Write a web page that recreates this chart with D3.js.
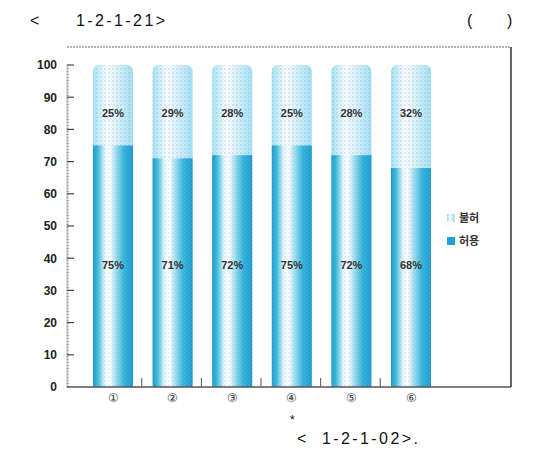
<!DOCTYPE html>
<html><head><meta charset="utf-8">
<script src="https://cdn.jsdelivr.net/npm/d3@7"></script>
<style>body{margin:0;background:#fff}svg{display:block}text{font-family:"Liberation Sans",Arial,sans-serif}</style>
</head><body>
<script>
const categories = ["①","②","③","④","⑤","⑥"];
const allowed = [75, 71, 72, 75, 72, 68];     // 허용
const denied  = [25, 29, 28, 25, 28, 32];     // 불허
const yTicks = [0,10,20,30,40,50,60,70,80,90,100];
const seriesNames = ["불허","허용"];
const titleParts = ["<", "1-2-1-21>"];
const unitParts = ["(", ")"];
const noteParts = ["*", "<", "1-2-1-02>."];

const W = 534, H = 459;
const svg = d3.select("body").append("svg").attr("width", W).attr("height", H);
const defs = svg.append("defs");

const gLow = defs.append("linearGradient").attr("id","gLow");
[[0,"#1a96cc"],[0.12,"#35bcd8"],[0.3,"#e8f8fc"],[0.42,"#ffffff"],[0.58,"#9adcec"],[0.78,"#2eb2d8"],[1,"#1a9ad0"]]
 .forEach(([o,c])=>gLow.append("stop").attr("offset",o).attr("stop-color",c));
const gHigh = defs.append("linearGradient").attr("id","gHigh");
[[0,"#a0e4f2"],[0.15,"#c6f0f8"],[0.35,"#ffffff"],[0.55,"#e4f6fb"],[0.8,"#bdebf6"],[1,"#a0e0f2"]]
 .forEach(([o,c])=>gHigh.append("stop").attr("offset",o).attr("stop-color",c));
const pat = defs.append("pattern").attr("id","dots").attr("width",4).attr("height",4).attr("patternUnits","userSpaceOnUse");
pat.append("circle").attr("cx",1).attr("cy",1).attr("r",0.8).attr("fill","#a9a9e6").attr("opacity",0.7);
pat.append("circle").attr("cx",3).attr("cy",3).attr("r",0.6).attr("fill","#9fd8ea").attr("opacity",0.6);

const pLeft = 67, pRight = 511, pTop = 47, y0 = 387, y100 = 65;
const x = d3.scalePoint().domain(categories).range([113, 411]);
const y = d3.scaleLinear().domain([0,100]).range([y0, y100]);
const bw = 40;

// frame
svg.append("line").attr("x1",pLeft).attr("x2",pRight).attr("y1",pTop).attr("y2",pTop)
  .attr("stroke","#999").attr("stroke-width",1.5).attr("stroke-dasharray","2,1");
svg.append("line").attr("x1",pRight).attr("x2",pRight).attr("y1",pTop).attr("y2",y0)
  .attr("stroke","#666").attr("stroke-width",2);

// y axis
const yAxis = d3.axisLeft(y).tickValues(yTicks).tickSize(0).tickPadding(10);
const ga = svg.append("g").attr("transform",`translate(${pLeft},0)`).call(yAxis);
ga.select(".domain").attr("stroke","#999").attr("stroke-width",2).attr("stroke-dasharray","2,1");
ga.selectAll("text").attr("font-size",12).attr("fill","#222").attr("font-weight","bold");
svg.append("g").selectAll("line").data(yTicks.slice(1)).join("line")
  .attr("x1",pLeft).attr("x2",pLeft+7).attr("y1",d=>y(d)).attr("y2",d=>y(d))
  .attr("stroke","#444").attr("stroke-width",1.2);

// bars
const bars = svg.append("g");
categories.forEach((c,i)=>{
  const cx = x(c);
  const tot = allowed[i]+denied[i];
  bars.append("rect").attr("x",cx-bw/2).attr("width",bw)
    .attr("y",y(tot)).attr("height",y(0)-y(tot))
    .attr("rx",6).attr("fill","url(#gHigh)");
  bars.append("rect").attr("x",cx-bw/2).attr("width",bw)
    .attr("y",y(tot)).attr("height",y(allowed[i])-y(tot)+4)
    .attr("rx",6).attr("fill","url(#dots)");
  bars.append("rect").attr("x",cx-bw/2).attr("width",bw)
    .attr("y",y(allowed[i])).attr("height",y(0)-y(allowed[i]))
    .attr("fill","url(#gLow)");
  bars.append("rect").attr("x",cx-bw/2).attr("width",bw)
    .attr("y",y(allowed[i])).attr("height",y(0)-y(allowed[i]))
    .attr("fill","url(#dots)").attr("opacity",0.6);
  bars.append("text").attr("x",cx).attr("y",y(85)+4).attr("text-anchor","middle")
    .attr("font-size",11).attr("font-weight","bold").attr("fill","#333").text(denied[i]+"%");
  bars.append("text").attr("x",cx).attr("y",y(38)+4).attr("text-anchor","middle")
    .attr("font-size",11).attr("font-weight","bold").attr("fill","#333").text(allowed[i]+"%");
});

// x axis baseline
svg.append("line").attr("x1",pLeft).attr("x2",pRight).attr("y1",y0).attr("y2",y0)
  .attr("stroke","#555").attr("stroke-width",1.5);
const seps = categories.slice(1).map((c,i)=> (x(categories[i])+x(c))/2 - 1);
svg.append("g").selectAll("line").data(seps).join("line")
  .attr("x1",d=>d).attr("x2",d=>d).attr("y1",y0-9).attr("y2",y0)
  .attr("stroke","#555").attr("stroke-width",1);
svg.append("g").selectAll("text").data(categories).join("text")
  .attr("x",d=>x(d)).attr("y",y0+15).attr("text-anchor","middle")
  .attr("font-size",12).attr("fill","#333").text(d=>d);

// legend
const lg = svg.append("g").attr("transform","translate(447,214)");
lg.append("rect").attr("width",8).attr("height",8).attr("fill","url(#gHigh)");
lg.append("rect").attr("width",8).attr("height",8).attr("fill","url(#dots)");
lg.append("text").attr("x",12).attr("y",8).attr("font-size",11).attr("font-weight","bold").attr("fill","#333")
  .style("font-family","'Noto Sans CJK KR',sans-serif").text(seriesNames[0]);
lg.append("rect").attr("y",23).attr("width",8).attr("height",8).attr("fill","#1aa2d2");
lg.append("text").attr("x",12).attr("y",31).attr("font-size",11).attr("font-weight","bold").attr("fill","#333")
  .style("font-family","'Noto Sans CJK KR',sans-serif").text(seriesNames[1]);

// texts
svg.append("text").attr("x",30).attr("y",26).attr("font-size",16).attr("fill","#111").text(titleParts[0]);
svg.append("text").attr("x",76).attr("y",26).attr("font-size",16).attr("fill","#111")
  .attr("letter-spacing",2.4).text(titleParts[1]);
svg.append("text").attr("x",467).attr("y",26).attr("font-size",16).attr("fill","#111").text(unitParts[0]);
svg.append("text").attr("x",507).attr("y",26).attr("font-size",16).attr("fill","#111").text(unitParts[1]);
svg.append("text").attr("x",290).attr("y",424).attr("font-size",12).attr("fill","#111").text(noteParts[0]);
svg.append("text").attr("x",297).attr("y",444).attr("font-size",16).attr("fill","#111").text(noteParts[1]);
svg.append("text").attr("x",322).attr("y",444).attr("font-size",16).attr("fill","#111")
  .attr("letter-spacing",2.4).text(noteParts[2]);
</script>
</body></html>
